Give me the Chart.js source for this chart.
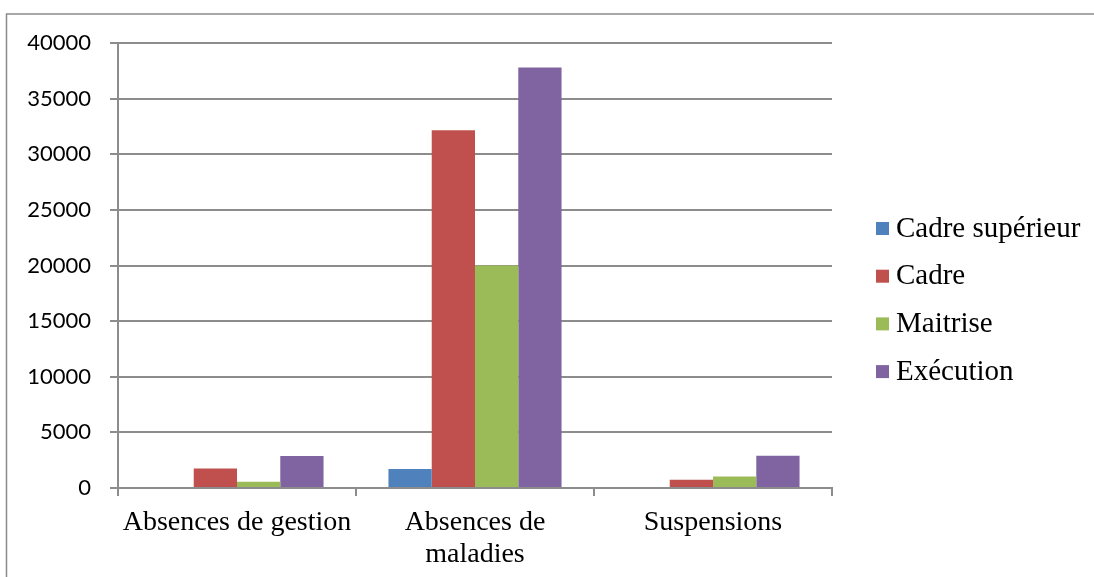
<!DOCTYPE html>
<html>
<head>
<meta charset="utf-8">
<script src="https://cdn.jsdelivr.net/npm/chart.js@4/dist/chart.umd.min.js"></script>
<style>
  html, body { margin: 0; padding: 0; background: #ffffff; }
  #wrap { position: relative; width: 1094px; height: 577px; }
</style>
</head>
<body>
<div id="wrap"><canvas id="c" width="1094" height="577"></canvas></div>
<script>
// Categories and series
const categories = ['Absences de gestion', ['Absences de', 'maladies'], 'Suspensions'];
const seriesNames = ['Cadre supérieur', 'Cadre', 'Maitrise', 'Exécution'];
const cadreSuperieur = [0, 1700, 100];
const cadre = [1750, 32150, 750];
const maitrise = [570, 20000, 1030];
const execution = [2870, 37800, 2900];
const yTicks = [0, 5000, 10000, 15000, 20000, 25000, 30000, 35000, 40000];

const colors = ['#4F81BD', '#C0504D', '#9BBB59', '#8064A2'];
const seriesValues = [cadreSuperieur, cadre, maitrise, execution];

const serif = '"Liberation Serif", "Times New Roman", serif';
const sans = 'Lato, "Liberation Sans", sans-serif';
const gridColor = '#8c8c8c';

// Outer frame (left and top edges)
const framePlugin = {
  id: 'frame',
  beforeDraw(chart) {
    const ctx = chart.ctx;
    ctx.save();
    ctx.strokeStyle = '#8a8a8a';
    ctx.lineWidth = 1.5;
    ctx.beginPath();
    ctx.moveTo(6.5, chart.height);
    ctx.lineTo(6.5, 14);
    ctx.lineTo(chart.width, 14);
    ctx.stroke();
    ctx.restore();
  }
};

// Legend on the right, drawn from the datasets
const sideLegend = {
  id: 'sideLegend',
  afterDraw(chart) {
    const ctx = chart.ctx;
    ctx.save();
    ctx.font = '29px ' + serif;
    ctx.textBaseline = 'middle';
    ctx.textAlign = 'left';
    chart.data.datasets.forEach((ds, i) => {
      const cy = 228 + i * 47.7;
      ctx.fillStyle = ds.backgroundColor;
      ctx.fillRect(876, cy - 6, 13, 13);
      ctx.fillStyle = '#000000';
      ctx.fillText(ds.label, 896, cy + 1);
    });
    ctx.restore();
  }
};

new Chart(document.getElementById('c'), {
  type: 'bar',
  data: {
    labels: categories,
    datasets: seriesNames.map((name, i) => ({
      label: name,
      data: seriesValues[i],
      backgroundColor: colors[i],
      borderWidth: 0,
      categoryPercentage: 4 / 5.5,
      barPercentage: 1
    }))
  },
  options: {
    responsive: false,
    animation: false,
    devicePixelRatio: 1,
    layout: { padding: { left: 0, right: 262, top: 43, bottom: 0 } },
    plugins: {
      legend: { display: false },
      tooltip: { enabled: false }
    },
    scales: {
      x: {
        grid: {
          display: true,
          drawOnChartArea: false,
          drawTicks: true,
          tickLength: 8,
          color: gridColor,
          lineWidth: 2,
          offset: true
        },
        border: { display: true, color: gridColor, width: 2 },
        ticks: {
          color: '#000000',
          font: { family: serif, size: 28, lineHeight: 1.17 },
          padding: 10,
          maxRotation: 0,
          autoSkip: false
        },
        afterFit(scale) { scale.height = 89; }
      },
      y: {
        min: 0,
        max: 40000,
        afterBuildTicks(scale) { scale.ticks = yTicks.map(v => ({ value: v })); },
        grid: {
          color: gridColor,
          lineWidth: 2,
          tickLength: 8,
          drawTicks: true
        },
        border: { display: true, color: gridColor, width: 2 },
        ticks: {
          color: '#000000',
          font: { family: sans, size: 22 },
          padding: 19,
          callback: (v) => String(v)
        },
        afterFit(scale) { scale.width = 118; }
      }
    }
  },
  plugins: [framePlugin, sideLegend]
});
</script>
</body>
</html>
